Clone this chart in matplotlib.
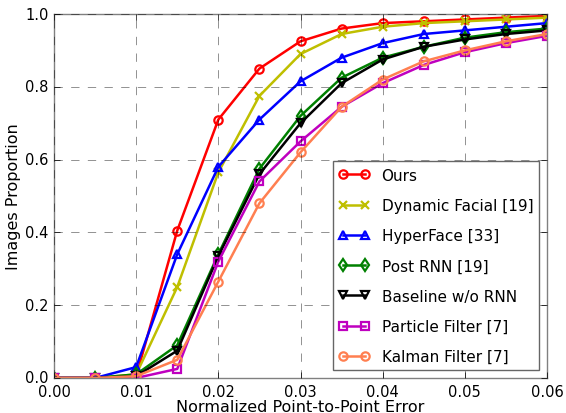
import numpy as np
import matplotlib
matplotlib.use('Agg')
import matplotlib.pyplot as plt

plt.style.use('classic')

### Data
err = [0.0, 0.005, 0.01, 0.015, 0.02, 0.025, 0.03, 0.035, 0.04, 0.045, 0.05, 0.055, 0.06]

ours     = [0.0, 0.0, 0.005, 0.405, 0.71, 0.85, 0.925, 0.96, 0.975, 0.98, 0.985, 0.99, 0.995]
dynamic  = [0.0, 0.0, 0.01, 0.25, 0.565, 0.775, 0.89, 0.945, 0.965, 0.975, 0.98, 0.985, 0.99]
hyper    = [0.0, 0.0, 0.03, 0.34, 0.58, 0.71, 0.815, 0.88, 0.92, 0.945, 0.955, 0.965, 0.975]
post_rnn = [0.0, 0.0, 0.01, 0.09, 0.34, 0.575, 0.72, 0.825, 0.88, 0.91, 0.935, 0.95, 0.96]
baseline = [0.0, 0.0, 0.005, 0.075, 0.335, 0.56, 0.70, 0.81, 0.875, 0.91, 0.93, 0.945, 0.955]
particle = [0.0, 0.0, 0.0, 0.025, 0.32, 0.54, 0.65, 0.745, 0.81, 0.86, 0.895, 0.92, 0.94]
kalman   = [0.0, 0.0, 0.005, 0.05, 0.265, 0.48, 0.62, 0.745, 0.82, 0.87, 0.90, 0.925, 0.945]

names = ['Ours', 'Dynamic Facial [19]', 'HyperFace [33]', 'Post RNN [19]',
         'Baseline w/o RNN', 'Particle Filter [7]', 'Kalman Filter [7]']

def main():
    series = [ours, dynamic, hyper, post_rnn, baseline, particle, kalman]
    colors = ['r', 'y', 'b', 'g', 'k', 'm', 'coral']
    markers = ['o', 'x', '^', 'd', 'v', 's', 'o']

    dpi = 100
    fig = plt.figure(figsize=(566/dpi, 414/dpi), dpi=dpi)
    ## axes box: x 54..547, y 15..379 px
    fig.subplots_adjust(left=54/566, right=547/566, top=1-15/414, bottom=1-379/414)
    ax = fig.add_subplot(111)

    for yy, nm, cc, mk in zip(series, names, colors, markers):
        ax.plot(err, yy, color=cc, marker=mk, lw=1.8, ms=6, mew=1.6,
                mfc='none', mec=cc, label=nm)

    ax.set_xlim(0, 0.06)
    ax.set_ylim(0, 1.0)
    ax.set_xticks(np.arange(0, 0.061, 0.01))
    ax.set_yticks(np.arange(0, 1.01, 0.2))
    ax.set_xlabel('Normalized Point-to-Point Error', fontsize=11.5, labelpad=0)
    ax.set_ylabel('Images Proportion', fontsize=11.5, labelpad=3)
    ax.tick_params(axis='both', labelsize=10.5)
    ax.grid(ls='--', color='k', alpha=0.6)
    for sp in ax.spines.values():
        sp.set_color('0.5')

    leg = ax.legend(loc='lower right', fontsize=11, numpoints=2,
                    labelspacing=1.0, handlelength=2.0)
    leg.get_frame().set_edgecolor('0.4')

    fig.savefig('out.png', dpi=dpi)
    return

if __name__ == "__main__":
    main()
